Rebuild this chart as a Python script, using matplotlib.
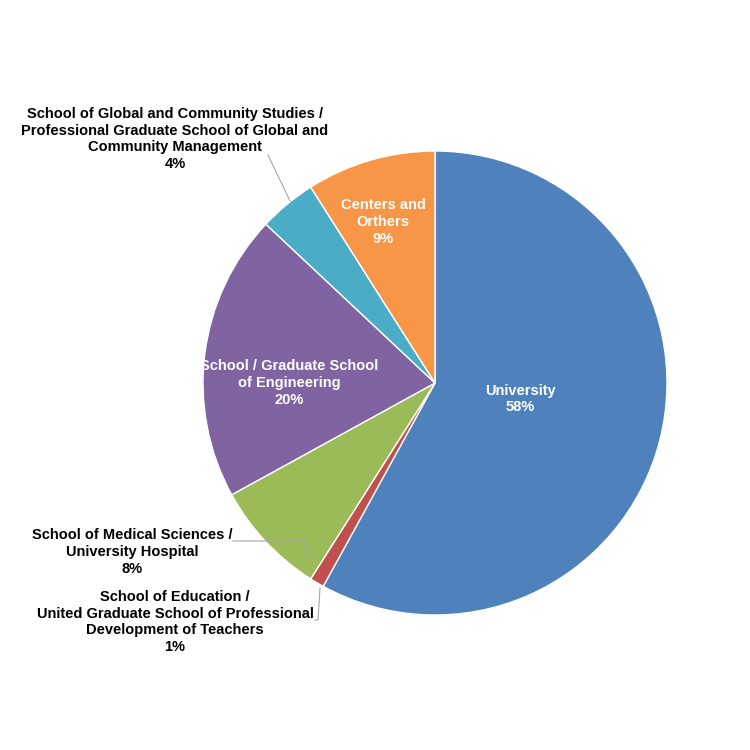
import matplotlib.pyplot as plt

plt.rcParams["font.family"] = "Liberation Sans"

labels = ["University", "School of Education /", "School of Medical Sciences /",
          "School / Graduate School of Engineering",
          "School of Global and Community Studies /", "Centers and Orthers"]
values = [58, 1, 8, 20, 4, 9]
colors = ["#4F81BD", "#C0504D", "#9BBB59", "#8064A2", "#4BACC6", "#F79646"]

W = 750
fig = plt.figure(figsize=(7.5, 7.5), dpi=100)
cx, cy, r = 435, 383, 232
ax = fig.add_axes([(cx - r) / W, 1 - (cy + r) / W, 2 * r / W, 2 * r / W])
wedges, _ = ax.pie(values, colors=colors, startangle=90, counterclock=False,
                   radius=1, wedgeprops=dict(edgecolor="white", linewidth=1))
ax.set_xlim(-1, 1)
ax.set_ylim(-1, 1)
ax.set_aspect("equal")
ax.axis("off")


def ft(x, y, s, color, ha="center"):
    fig.text(x / W, 1 - y / W, s, color=color, fontsize=10.5, fontweight="bold",
             ha=ha, va="center", linespacing=1.25)


# inside labels
ft(520, 399, "University\n58%", "white")
ft(289, 383, "School / Graduate School\nof Engineering\n20%", "white")
ft(383, 222, "Centers and\nOrthers\n9%", "white")

# outside labels
ft(175, 139, "School of Global and Community Studies /\n"
   "Professional Graduate School of Global and\nCommunity Management\n4%", "black")
ft(132, 552, "School of Medical Sciences /\nUniversity Hospital\n8%", "black")
ft(175, 622, "School of Education /\nUnited Graduate School of Professional\n"
   "Development of Teachers\n1%", "black")


def leader(pts):
    xs = [p[0] / W for p in pts]
    ys = [1 - p[1] / W for p in pts]
    fig.add_artist(plt.Line2D(xs, ys, color="#A6A6A6", lw=0.8))


leader([(268, 155), (290, 201)])
leader([(233, 541), (305, 541), (310, 560)])
leader([(315, 620), (318, 620), (320, 588)])

fig.savefig("out.png", dpi=100, facecolor="white")
